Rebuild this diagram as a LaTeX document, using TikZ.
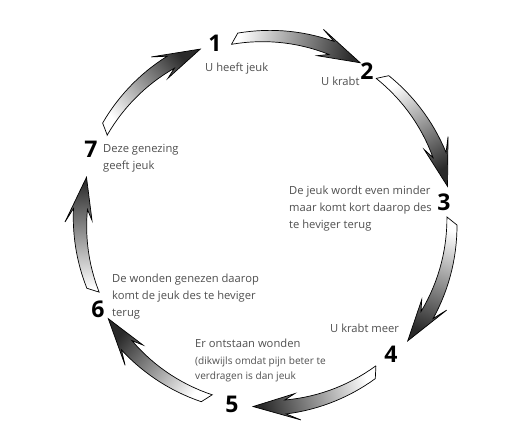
\documentclass[tikz,border=0pt]{standalone}
\usepackage{fontspec}
\setmainfont{Open Sans}
\usetikzlibrary{calc}
\definecolor{txtgray}{HTML}{505050}
\definecolor{headgray}{HTML}{2a2a2a}
\newcommand\cycarrow[2]{%
  \pgfmathsetmacro\aT{#1}%
  \pgfmathsetmacro\aH{#2}%
  \pgfmathsetmacro\aN{\aH+10}%
  \pgfmathsetmacro\aTo{\aT-1.5}%
  \pgfmathsetmacro\aTi{\aT+1}%
  \pgfmathsetmacro\shang{(\aT+\aH)/2-180}%
  \shadedraw[cyclearrow, shading angle=\shang]
    (\aTi:\Rc-5) -- (\aTo:\Rc+5)
    -- plot[domain=\aTo:\aN, samples=16] (\x:{\Rc+5+2*(\aTo-\x)/(\aTo-\aN)})
    -- (\aH+14:\Rc+15) -- (\aH:\Rc-1) -- (\aH+13.5:\Rc-12)
    -- plot[domain=\aN:\aTi, samples=16] (\x:{\Rc-7+2*(\x-\aN)/(\aTi-\aN)})
    -- cycle;
}
\def\Rc{186}
\tikzset{
  cyclearrow/.style={draw=black, line width=0.7pt, line join=miter,
    bottom color=white, top color=headgray},
  numlabel/.style={font=\fontsize{23}{23}\selectfont\bfseries, text=black, inner sep=0pt, anchor=base},
  desc/.style={font=\fontsize{11.2}{17}\selectfont, text=txtgray, inner sep=0pt, anchor=base west, align=left},
  descsmall/.style={font=\fontsize{10.1}{15}\selectfont, text=txtgray, inner sep=0pt, anchor=base west, align=left}
}
\begin{document}
\begin{tikzpicture}[x=1pt,y=1pt]
\useasboundingbox[fill=white] (0,0) rectangle (532,446);
\begin{scope}[shift={(266,224)}]
  \cycarrow{100}{59.4}
  \cycarrow{51.5}{11.1}
  \cycarrow{0.6}{-40}
  \cycarrow{-53.6}{-94}
  \cycarrow{-108.3}{-148.5}
  \cycarrow{-158.2}{-194}
  \cycarrow{150.3}{110.8}
\end{scope}
\node[numlabel] (n1) at (215,394) {1};
\node[numlabel] (n2) at (367,366) {2};
\node[numlabel] (n3) at (444,235) {3};
\node[numlabel] (n4) at (391,83) {4};
\node[numlabel] (n5) at (232,33) {5};
\node[numlabel] (n6) at (98,128) {6};
\node[numlabel] (n7) at (91,288) {7};
\node[desc] (t1) at (205,374) {U heeft jeuk};
\node[desc] (t2) at (321,360) {U krabt};
\node[desc] (t3) at (289,217) {De jeuk wordt even minder\\maar komt kort daarop des\\te heviger terug};
\node[desc] (t4) at (330,113) {U krabt meer};
\node[desc] (t5a) at (195,98) {Er ontstaan wonden};
\node[descsmall] (t5b) at (195,66) {(dikwijls omdat pijn beter te\\verdragen is dan jeuk};
\node[desc] (t6) at (112,129) {De wonden genezen daarop\\komt de jeuk des te heviger\\terug};
\node[desc] (t7) at (103,276) {Deze genezing\\geeft jeuk};
\end{tikzpicture}
\end{document}
